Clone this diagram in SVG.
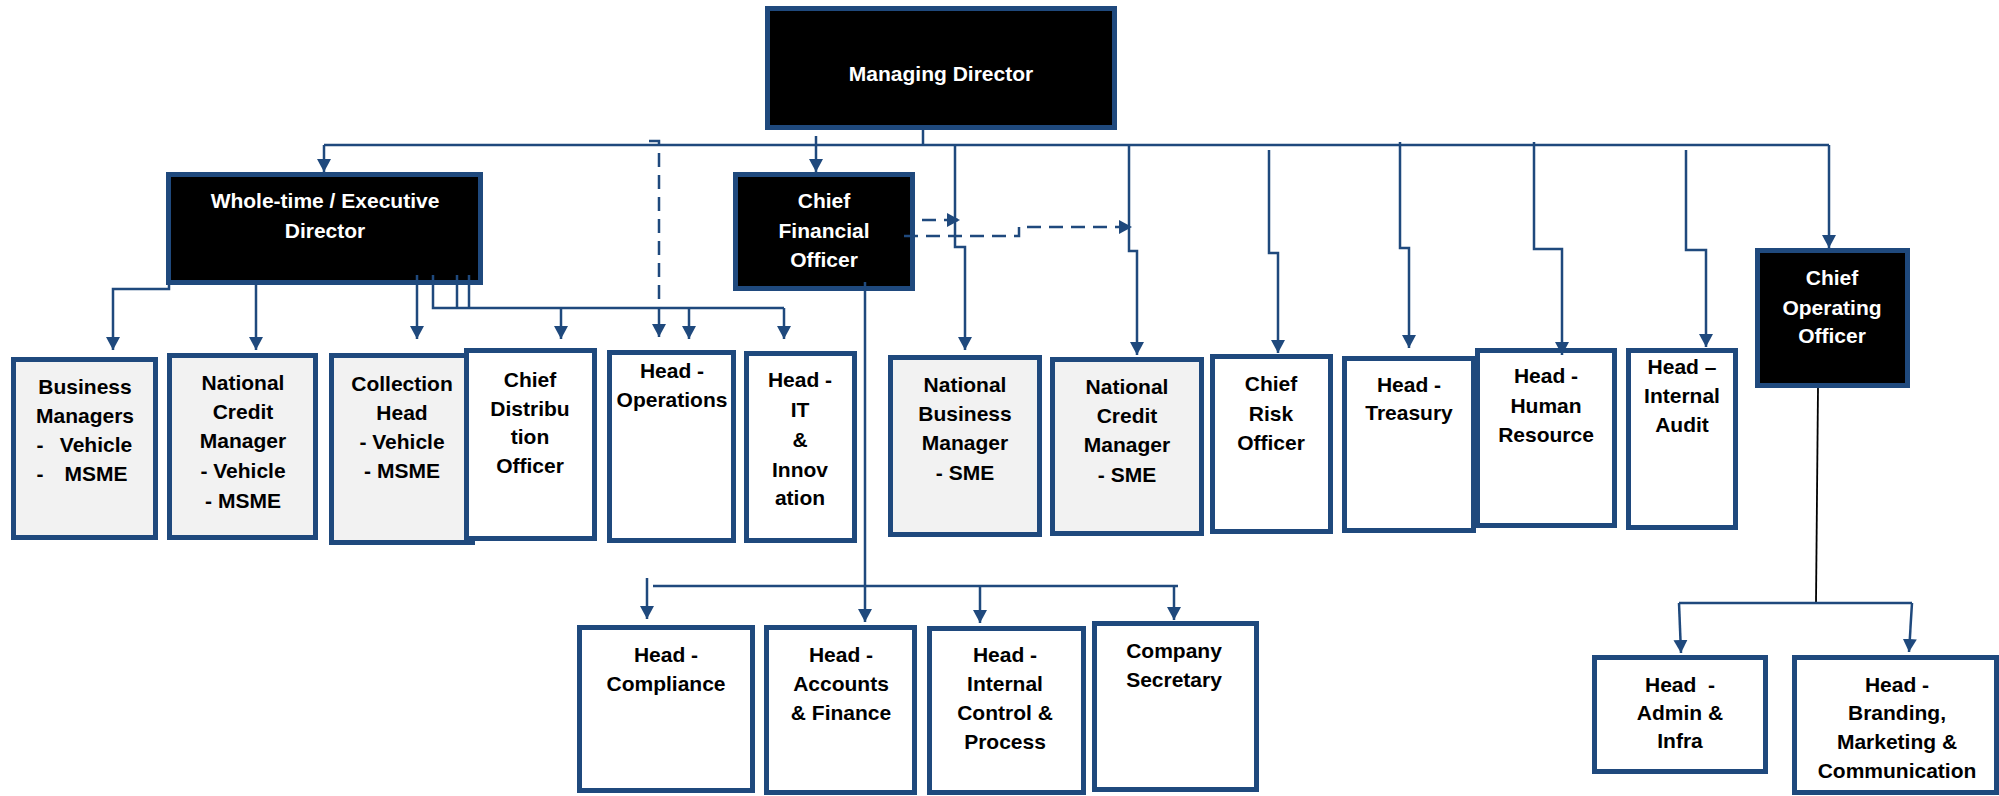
<svg xmlns="http://www.w3.org/2000/svg" width="1999" height="796" viewBox="0 0 1999 796">
<defs>
<marker id="ah" markerUnits="userSpaceOnUse" markerWidth="16" markerHeight="16" refX="13" refY="7" orient="auto">
<path d="M0,0 L13,7 L0,14 z" fill="#1F497D"/>
</marker>
<style>
.box{stroke:#1F497D;stroke-width:5}
.blk{fill:#000}
.wht{fill:#fff}
.gry{fill:#F2F2F2}
text{font-family:"Liberation Sans",Arial,sans-serif;font-weight:bold;font-size:21px;text-anchor:middle}
.tw{fill:#fff}
.tb{fill:#000}
.ln{fill:none;stroke:#1F497D;stroke-width:2.5}
.arr{marker-end:url(#ah)}
.dash{stroke-dasharray:14 8}
</style>
</defs>
<rect width="1999" height="796" fill="#fff"/>

<g id="managing-director">
<rect class="box blk" x="767.5" y="8.5" width="347" height="119"/>
<text class="tw" x="941" y="81">Managing Director</text>
</g>
<g id="wtd">
<rect class="box blk" x="168.5" y="174.5" width="312" height="108"/>
<text class="tw" x="325" y="208">Whole-time / Executive</text>
<text class="tw" x="325" y="238">Director</text>
</g>
<g id="cfo">
<rect class="box blk" x="735.5" y="174.5" width="177" height="114"/>
<text class="tw" x="824" y="208">Chief</text>
<text class="tw" x="824" y="238">Financial</text>
<text class="tw" x="824" y="267">Officer</text>
</g>
<g id="coo">
<rect class="box blk" x="1757.5" y="250.5" width="150" height="135"/>
<text class="tw" x="1832" y="285">Chief</text>
<text class="tw" x="1832" y="315">Operating</text>
<text class="tw" x="1832" y="343">Officer</text>
</g>
<g id="business-managers">
<rect class="box gry" x="13.5" y="359.5" width="142" height="178"/>
<text class="tb" x="85" y="394">Business</text>
<text class="tb" x="85" y="423">Managers</text>
<text class="tb" x="40" y="452">-</text>
<text class="tb" x="96" y="452">Vehicle</text>
<text class="tb" x="40" y="481">-</text>
<text class="tb" x="96" y="481">MSME</text>
</g>
<g id="national-credit-manager">
<rect class="box gry" x="169.5" y="355.5" width="146" height="182"/>
<text class="tb" x="243" y="390">National</text>
<text class="tb" x="243" y="419">Credit</text>
<text class="tb" x="243" y="448">Manager</text>
<text class="tb" x="243" y="478">- Vehicle</text>
<text class="tb" x="243" y="508">- MSME</text>
</g>
<g id="collection-head">
<rect class="box gry" x="331.5" y="355.5" width="141" height="187"/>
<text class="tb" x="402" y="391">Collection</text>
<text class="tb" x="402" y="420">Head</text>
<text class="tb" x="402" y="449">- Vehicle</text>
<text class="tb" x="402" y="478">- MSME</text>
</g>
<g id="cdo">
<rect class="box wht" x="466.5" y="350.5" width="128" height="188"/>
<text class="tb" x="530" y="387">Chief</text>
<text class="tb" x="530" y="416">Distribu</text>
<text class="tb" x="530" y="444">tion</text>
<text class="tb" x="530" y="473">Officer</text>
</g>
<g id="head-operations">
<rect class="box wht" x="609.5" y="352.5" width="124" height="188"/>
<text class="tb" x="672" y="378">Head -</text>
<text class="tb" x="672" y="407">Operations</text>
</g>
<g id="head-it">
<rect class="box wht" x="746.5" y="353.5" width="108" height="187"/>
<text class="tb" x="800" y="387">Head -</text>
<text class="tb" x="800" y="417">IT</text>
<text class="tb" x="800" y="447">&amp;</text>
<text class="tb" x="800" y="477">Innov</text>
<text class="tb" x="800" y="505">ation</text>
</g>
<g id="nbm-sme">
<rect class="box gry" x="890.5" y="357.5" width="149" height="177"/>
<text class="tb" x="965" y="392">National</text>
<text class="tb" x="965" y="421">Business</text>
<text class="tb" x="965" y="450">Manager</text>
<text class="tb" x="965" y="480">- SME</text>
</g>
<g id="ncm-sme">
<rect class="box gry" x="1052.5" y="359.5" width="149" height="174"/>
<text class="tb" x="1127" y="394">National</text>
<text class="tb" x="1127" y="423">Credit</text>
<text class="tb" x="1127" y="452">Manager</text>
<text class="tb" x="1127" y="482">- SME</text>
</g>
<g id="cro">
<rect class="box wht" x="1212.5" y="356.5" width="118" height="175"/>
<text class="tb" x="1271" y="391">Chief</text>
<text class="tb" x="1271" y="421">Risk</text>
<text class="tb" x="1271" y="450">Officer</text>
</g>
<g id="head-treasury">
<rect class="box wht" x="1344.5" y="358.5" width="129" height="172"/>
<text class="tb" x="1409" y="392">Head -</text>
<text class="tb" x="1409" y="420">Treasury</text>
</g>
<g id="head-hr">
<rect class="box wht" x="1477.5" y="350.5" width="137" height="175"/>
<text class="tb" x="1546" y="383">Head -</text>
<text class="tb" x="1546" y="413">Human</text>
<text class="tb" x="1546" y="442">Resource</text>
</g>
<g id="head-internal-audit">
<rect class="box wht" x="1628.5" y="350.5" width="107" height="177"/>
<text class="tb" x="1682" y="374">Head –</text>
<text class="tb" x="1682" y="403">Internal</text>
<text class="tb" x="1682" y="432">Audit</text>
</g>
<g id="head-compliance">
<rect class="box wht" x="579.5" y="627.5" width="173" height="163"/>
<text class="tb" x="666" y="662">Head -</text>
<text class="tb" x="666" y="691">Compliance</text>
</g>
<g id="head-accounts">
<rect class="box wht" x="766.5" y="627.5" width="148" height="165"/>
<text class="tb" x="841" y="662">Head -</text>
<text class="tb" x="841" y="691">Accounts</text>
<text class="tb" x="841" y="720">&amp; Finance</text>
</g>
<g id="head-icp">
<rect class="box wht" x="929.5" y="628.5" width="154" height="164"/>
<text class="tb" x="1005" y="662">Head -</text>
<text class="tb" x="1005" y="691">Internal</text>
<text class="tb" x="1005" y="720">Control &amp;</text>
<text class="tb" x="1005" y="749">Process</text>
</g>
<g id="company-secretary">
<rect class="box wht" x="1094.5" y="623.5" width="162" height="166"/>
<text class="tb" x="1174" y="658">Company</text>
<text class="tb" x="1174" y="687">Secretary</text>
</g>
<g id="head-admin">
<rect class="box wht" x="1594.5" y="657.5" width="171" height="114"/>
<text class="tb" x="1680" y="692" xml:space="preserve">Head  -</text>
<text class="tb" x="1680" y="720">Admin &amp;</text>
<text class="tb" x="1680" y="748">Infra</text>
</g>
<g id="head-branding">
<rect class="box wht" x="1794.5" y="657.5" width="202" height="135"/>
<text class="tb" x="1897" y="692">Head -</text>
<text class="tb" x="1897" y="720">Branding,</text>
<text class="tb" x="1897" y="749">Marketing &amp;</text>
<text class="tb" x="1897" y="778">Communication</text>
</g>

<g id="connectors">
<path class="ln" d="M923,130 V145"/>
<path class="ln" d="M1829,145 H324"/>
<path class="ln arr" d="M324,145 V172"/>
<path class="ln arr" d="M816,136 V172"/>
<path class="ln arr" d="M955,145 V247 H965 V350"/>
<path class="ln arr" d="M1129,145 V251 H1137 V355"/>
<path class="ln arr" d="M1269,150 V253 H1278 V353"/>
<path class="ln arr" d="M1400,142 V248 H1409 V348"/>
<path class="ln arr" d="M1534,142 V249 H1562 V355"/>
<path class="ln arr" d="M1686,150 V250 H1706 V347"/>
<path class="ln arr" d="M1829,145 V248"/>
<path class="ln dash" d="M649,141 H659 V308"/>
<path class="ln dash arr" d="M922,220 H960"/>
<path class="ln dash arr" d="M904,236 H1019 V227 H1132"/>
<path class="ln arr" d="M169,285 V289 H113 V350"/>
<path class="ln arr" d="M256,285 V350"/>
<path class="ln arr" d="M417,275 V339"/>
<path class="ln" d="M433,275 V308 H784"/>
<path class="ln" d="M457,275 V308"/>
<path class="ln" d="M469,275 V308"/>
<path class="ln arr" d="M561,308 V339"/>
<path class="ln arr" d="M659,308 V337"/>
<path class="ln arr" d="M689,308 V339"/>
<path class="ln arr" d="M784,308 V339"/>
<path class="ln arr" d="M865,282 V622"/>
<path class="ln" d="M653,586 H1178"/>
<path class="ln arr" d="M647,578 V619"/>
<path class="ln arr" d="M980,586 V623"/>
<path class="ln arr" d="M1174,586 V620"/>
<path d="M1818,388 L1816,603" fill="none" stroke="#000" stroke-width="1.8"/>
<path class="ln" d="M1679,603 H1912"/>
<path class="ln arr" d="M1679,603 L1681,653"/>
<path class="ln arr" d="M1912,603 L1909,652"/>
</g>
</svg>
